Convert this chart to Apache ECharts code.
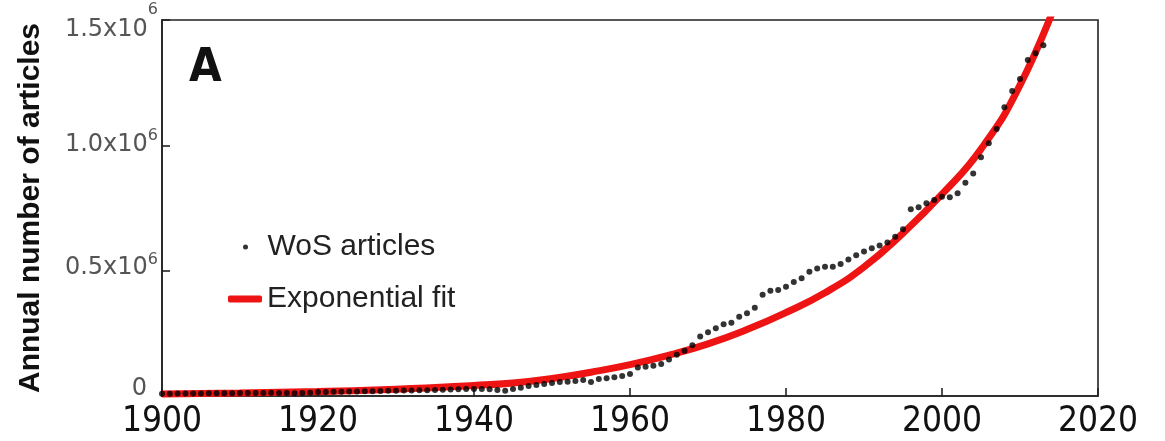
<!DOCTYPE html>
<html>
<head>
<meta charset="utf-8">
<script src="https://cdn.jsdelivr.net/npm/echarts@6/dist/echarts.min.js"></script>
<style>
  html, body { margin: 0; padding: 0; background: #ffffff; }
  #chart { width: 1165px; height: 441px; }
</style>
</head>
<body>
<div id="chart"></div>
<script>
// Annual number of articles indexed in WoS, one value per year from firstYear on
const firstYear = 1900;
const articles = [
  9000, 9200, 9500, 9800, 10000, 10300, 10600, 10800, 11000, 11300,
  11500, 11800, 12000, 12300, 12500, 12000, 11500, 11200, 11600, 12800,
  15500, 16000, 16500, 17000, 17600, 18200, 18800, 19300, 20000, 20600,
  21000, 21500, 22000, 22600, 23200, 24000, 24800, 25600, 26500, 27500,
  28000, 28000, 27000, 24000, 21000, 28000, 33000, 40000, 44000, 48000,
  52000, 56000, 57000, 60000, 64000, 56000, 68000, 71000, 75000, 80000,
  88000, 114000, 117000, 121000, 128000, 146000, 165000, 181000, 202000, 237000,
  254000, 270000, 286000, 292000, 316000, 330000, 352000, 404000, 420000, 423000,
  436000, 455000, 470000, 496000, 509000, 516000, 516000, 527000, 545000, 562000,
  576000, 589000, 600000, 612000, 635000, 665000, 745000, 753000, 769000, 782000,
  795000, 793000, 809000, 851000, 888000, 952000, 1008000, 1065000, 1152000, 1217000,
  1265000, 1340000, 1367000, 1399000
];
const years = articles.map((_, i) => firstYear + i);

// Exponential fit curve, sampled every five years
const fitYears = [1900, 1910, 1920, 1930, 1940, 1945, 1950, 1955, 1960, 1965,
                  1970, 1975, 1980, 1985, 1990, 1995, 2000, 2005, 2010, 2015];
const fitValues = [8000, 12000, 18000, 27000, 42000, 52000, 70000, 95000, 125000, 163000,
                   208000, 265000, 333000, 412000, 515000, 650000, 805000, 985000, 1240000, 1600000];

// Axis ticks
const xTicks = [1900, 1920, 1940, 1960, 1980, 2000, 2020];
const yTickMantissa = { 0: '0', 500000: '0.5x10', 1000000: '1.0x10', 1500000: '1.5x10' };
const yTickExponent = '6';

const seriesNames = ['WoS articles', 'Exponential fit'];

const narrow = '"Liberation Sans Narrow", "DejaVu Sans Condensed", sans-serif';
const plain = '"Liberation Sans", Arial, sans-serif';
const axisInk = '#222222';

const chart = echarts.init(document.getElementById('chart'), null, { renderer: 'canvas' });

// Rich-text style key per tick value: each label sits slightly differently next to its tick
const yLabelKey = { 0: 'z', 500000: 'c', 1000000: 'b', 1500000: 'a' };
function yLabel(v) {
  const k = yLabelKey[v];
  if (v === 0) return '{z|' + yTickMantissa[0] + '}';
  return '{' + k + '|' + yTickMantissa[v] + '}{' + k + 's|' + yTickExponent + '}';
}

const tickFont = { fontFamily: '"DejaVu Sans", sans-serif', fontSize: 24, color: '#555555' };
const supFont = { fontFamily: '"DejaVu Sans", sans-serif', fontSize: 16, color: '#555555' };
const withPad = (pad, font) => Object.assign({ padding: pad }, font);

chart.setOption({
  animation: false,
  backgroundColor: '#ffffff',
  grid: {
    left: 162, right: 67, top: 20, bottom: 45,
    show: true, borderColor: axisInk, borderWidth: 1.6, backgroundColor: 'transparent'
  },
  xAxis: {
    type: 'value',
    min: xTicks[0], max: xTicks[xTicks.length - 1], interval: 20,
    axisLine: { show: true, lineStyle: { color: axisInk, width: 1.6 } },
    axisTick: { show: true, inside: true, length: 8, lineStyle: { color: axisInk, width: 1.6 } },
    splitLine: { show: false },
    axisLabel: {
      margin: 8, fontFamily: narrow, fontSize: 35, color: '#111111',
      formatter: v => String(v)
    }
  },
  yAxis: {
    type: 'value',
    min: 0, max: 1500000, interval: 500000,
    name: 'Annual number of articles',
    nameLocation: 'middle', nameGap: 116, nameRotate: 90,
    nameMoveOverlap: false,
    nameTextStyle: { fontFamily: plain, fontSize: 30, fontWeight: 'bold', color: '#111111' },
    axisLine: { show: true, lineStyle: { color: axisInk, width: 1.6 } },
    axisTick: { show: true, inside: true, length: 8, lineStyle: { color: axisInk, width: 1.6 } },
    splitLine: { show: false },
    axisLabel: {
      margin: 4,
      formatter: yLabel,
      rich: {
        a: withPad([20, 0, 0, 0], tickFont),
        as: withPad([0, 0, 20, 0], supFont),
        b: withPad([0, 0, 1, 0], tickFont),
        bs: withPad([0, 0, 18, 0], supFont),
        c: withPad([0, 0, 5, 0], tickFont),
        cs: withPad([0, 0, 22, 0], supFont),
        z: withPad([0, 11, 14, 0], tickFont)
      }
    }
  },
  legend: [
    {
      data: [{ name: seriesNames[0], icon: 'circle' }],
      left: 243, top: 232, padding: 0,
      itemWidth: 34, itemHeight: 5, selectedMode: false,
      textStyle: { fontFamily: plain, fontSize: 30, color: '#222222' }
    },
    {
      data: [{ name: seriesNames[1], icon: 'roundRect' }],
      left: 228, top: 284, padding: 0,
      itemWidth: 34, itemHeight: 7, selectedMode: false,
      textStyle: { fontFamily: plain, fontSize: 30, color: '#222222' }
    }
  ],
  graphic: [
    {
      type: 'text', x: 189, y: 69,
      style: { text: 'A', fontFamily: narrow, fontSize: 47, fontWeight: 'bold', fill: '#111111', verticalAlign: 'middle' }
    }
  ],
  series: [
    {
      name: seriesNames[1],
      type: 'line',
      smooth: true,
      showSymbol: false,
      symbol: 'none',
      clip: true,
      z: 2,
      color: '#ee1414',
      lineStyle: { color: '#ee1414', width: 7 },
      data: fitYears.map((y, i) => [y, fitValues[i]])
    },
    {
      name: seriesNames[0],
      type: 'scatter',
      symbol: 'circle',
      symbolSize: 6,
      z: 3,
      color: '#000000',
      itemStyle: { color: '#000000' },
      data: years.map((y, i) => [y, articles[i]])
    }
  ]
});
</script>
</body>
</html>
